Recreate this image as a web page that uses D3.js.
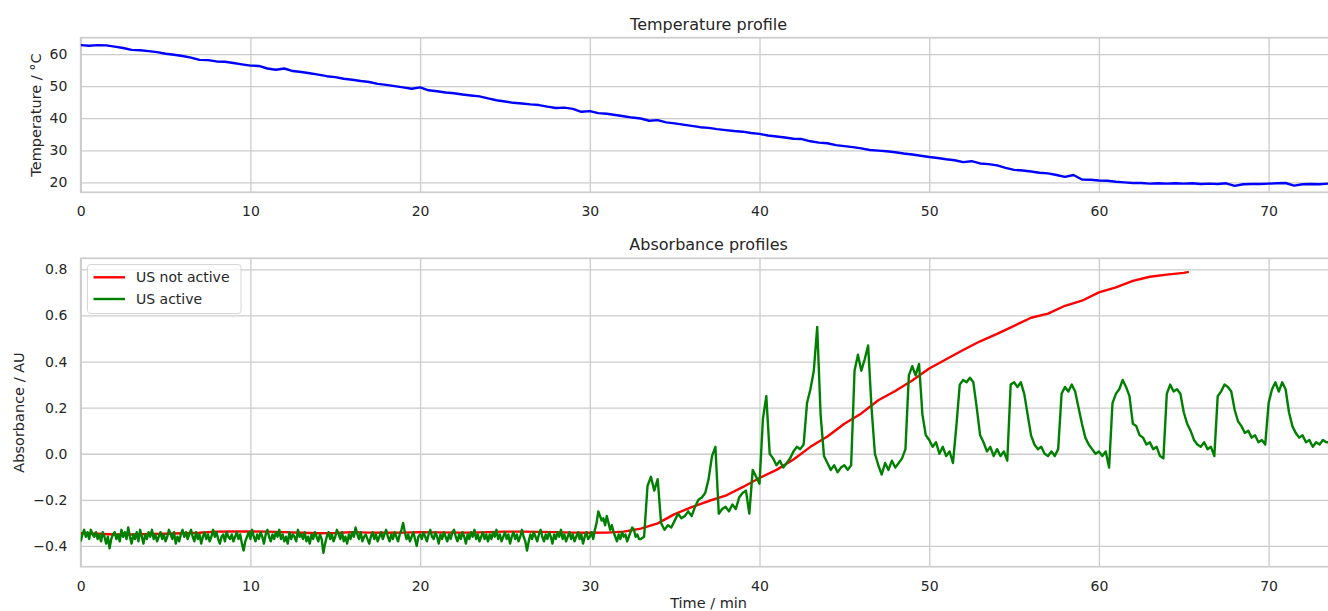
<!DOCTYPE html>
<html>
<head>
<meta charset="utf-8">
<title>Temperature and absorbance profiles</title>
<script src="https://d3js.org/d3.v7.min.js"></script>
<style>
    body { margin: 0; background: #fff; }
    svg { display: block; font-family: "DejaVu Sans", sans-serif; }
    .tick text { fill: #262626; }
</style>
</head>
<body>
<svg id="chart" width="1328" height="611"></svg>
<script>
// ---- data ----
const xTicks = [0, 10, 20, 30, 40, 50, 60, 70];
const tempTicks = [20, 30, 40, 50, 60];
const absTicks = [-0.4, -0.2, 0.0, 0.2, 0.4, 0.6, 0.8];

// temperature, one sample every 0.5 min from 0 to 74 min
const tempStep = 0.5;
const temperature = [
    62.8,62.6,62.8,62.7,62.3,61.9,61.3,61.2,60.9,60.6,
    60.1,59.8,59.4,58.9,58.2,58.1,57.7,57.6,57.2,56.8,
    56.4,56.3,55.5,55.1,55.5,54.7,54.4,54.0,53.6,53.1,
    52.8,52.3,52.0,51.6,51.3,50.7,50.4,50.0,49.6,49.2,
    49.6,48.7,48.4,48.0,47.8,47.4,47.1,46.8,46.2,45.6,
    45.2,44.8,44.6,44.3,44.1,43.6,43.2,43.3,42.9,42.0,
    42.2,41.6,41.4,41.0,40.6,40.2,39.9,39.2,39.4,38.7,
    38.4,38.0,37.6,37.2,37.0,36.6,36.3,36.0,35.8,35.4,
    35.1,34.6,34.3,34.0,33.6,33.5,32.8,32.4,32.2,31.6,
    31.3,31.0,30.6,30.1,29.9,29.7,29.4,29.0,28.7,28.3,
    27.9,27.6,27.2,26.9,26.3,26.6,25.9,25.7,25.3,24.5,
    23.9,23.7,23.4,23.0,22.8,22.3,21.7,22.3,20.9,20.8,
    20.6,20.5,20.2,20.0,19.8,19.8,19.6,19.7,19.6,19.7,
    19.6,19.7,19.5,19.6,19.5,19.7,18.9,19.4,19.5,19.5,
    19.6,19.7,19.8,19.0,19.4,19.5,19.4,19.6,19.5
];

// US not active (red)
const redTime = [...d3.range(0, 66), 65.3];
const usNotActive = [
    -0.345,-0.347,-0.350,-0.350,-0.348,-0.347,-0.345,-0.343,-0.338,-0.337,
    -0.337,-0.338,-0.340,-0.343,-0.345,-0.344,-0.340,-0.342,-0.343,-0.342,
    -0.340,-0.341,-0.342,-0.342,-0.340,-0.338,-0.338,-0.339,-0.340,-0.342,
    -0.343,-0.342,-0.338,-0.325,-0.302,-0.262,-0.232,-0.205,-0.182,-0.145,
    -0.105,-0.070,-0.025,0.030,0.075,0.130,0.175,0.232,0.272,0.318,
    0.370,0.410,0.450,0.488,0.520,0.555,0.590,0.608,0.642,0.664,
    0.700,0.722,0.750,0.768,0.777,0.785,0.789
];

// US active (green): 0 - 32.9 min every 0.1 min (noisy baseline)
const greenEarlyStep = 0.1;
const usActiveEarly = [
    -0.38,-0.35,-0.33,-0.36,-0.34,-0.37,-0.33,-0.35,-0.36,-0.34,
    -0.37,-0.35,-0.38,-0.34,-0.36,-0.39,-0.36,-0.41,-0.37,-0.35,
    -0.34,-0.37,-0.35,-0.38,-0.33,-0.36,-0.34,-0.37,-0.32,-0.36,
    -0.39,-0.35,-0.37,-0.34,-0.38,-0.33,-0.36,-0.39,-0.35,-0.37,
    -0.34,-0.36,-0.33,-0.37,-0.35,-0.38,-0.36,-0.34,-0.37,-0.35,
    -0.38,-0.36,-0.33,-0.35,-0.37,-0.34,-0.39,-0.36,-0.38,-0.35,
    -0.33,-0.36,-0.34,-0.37,-0.35,-0.33,-0.36,-0.38,-0.34,-0.37,
    -0.35,-0.39,-0.36,-0.34,-0.37,-0.35,-0.38,-0.36,-0.33,-0.36,
    -0.34,-0.37,-0.39,-0.36,-0.35,-0.38,-0.34,-0.36,-0.37,-0.35,
    -0.38,-0.36,-0.34,-0.37,-0.35,-0.39,-0.42,-0.38,-0.36,-0.34,
    -0.37,-0.33,-0.36,-0.38,-0.35,-0.37,-0.34,-0.36,-0.39,-0.35,
    -0.33,-0.36,-0.38,-0.35,-0.37,-0.34,-0.36,-0.33,-0.37,-0.35,
    -0.38,-0.36,-0.39,-0.34,-0.37,-0.35,-0.36,-0.38,-0.33,-0.36,
    -0.35,-0.37,-0.34,-0.38,-0.36,-0.39,-0.35,-0.37,-0.34,-0.36,
    -0.38,-0.35,-0.37,-0.43,-0.39,-0.36,-0.34,-0.37,-0.35,-0.38,
    -0.36,-0.33,-0.35,-0.37,-0.34,-0.38,-0.36,-0.39,-0.35,-0.37,
    -0.34,-0.36,-0.32,-0.35,-0.37,-0.34,-0.38,-0.36,-0.35,-0.37,
    -0.39,-0.36,-0.34,-0.37,-0.35,-0.38,-0.36,-0.34,-0.37,-0.35,
    -0.33,-0.36,-0.38,-0.35,-0.37,-0.34,-0.36,-0.38,-0.35,-0.33,
    -0.30,-0.34,-0.37,-0.35,-0.38,-0.36,-0.34,-0.37,-0.40,-0.36,
    -0.35,-0.37,-0.34,-0.36,-0.38,-0.35,-0.33,-0.36,-0.37,-0.34,
    -0.36,-0.39,-0.35,-0.37,-0.34,-0.36,-0.38,-0.35,-0.37,-0.34,
    -0.33,-0.36,-0.38,-0.35,-0.37,-0.34,-0.36,-0.39,-0.35,-0.37,
    -0.34,-0.36,-0.33,-0.37,-0.35,-0.38,-0.36,-0.34,-0.37,-0.35,
    -0.38,-0.35,-0.37,-0.34,-0.36,-0.33,-0.37,-0.35,-0.38,-0.36,
    -0.34,-0.37,-0.35,-0.39,-0.36,-0.34,-0.37,-0.35,-0.38,-0.36,
    -0.33,-0.36,-0.38,-0.42,-0.38,-0.35,-0.37,-0.34,-0.36,-0.38,
    -0.35,-0.33,-0.36,-0.38,-0.35,-0.37,-0.34,-0.36,-0.39,-0.35,
    -0.37,-0.34,-0.36,-0.33,-0.37,-0.35,-0.38,-0.36,-0.34,-0.37,
    -0.35,-0.38,-0.36,-0.34,-0.37,-0.35,-0.39,-0.36,-0.34,-0.37,
    -0.36,-0.34,-0.37,-0.33,-0.30,-0.25,-0.27,-0.29,-0.28,-0.31,
    -0.27,-0.30,-0.33,-0.31,-0.34,-0.36,-0.38,-0.35,-0.37,-0.34,
    -0.36,-0.35,-0.38,-0.36,-0.34,-0.32,-0.33,-0.36,-0.35,-0.37
];
// US active (green): from 33.0 min every 0.2 min
const greenLateStart = 33.0;
const greenLateStep = 0.2;
const usActiveLate = [
    -0.37,-0.36,-0.14,-0.10,-0.16,
    -0.11,-0.30,-0.33,-0.31,-0.32,-0.29,-0.26,-0.28,-0.27,-0.25,
    -0.27,-0.23,-0.20,-0.19,-0.17,-0.11,-0.01,0.03,-0.26,-0.24,
    -0.23,-0.25,-0.22,-0.24,-0.19,-0.17,-0.16,-0.26,-0.07,-0.10,
    -0.13,0.15,0.25,0.00,-0.02,-0.05,-0.03,-0.06,-0.04,-0.02,
    0.01,0.03,0.02,0.04,0.22,0.28,0.36,0.55,0.17,-0.01,
    -0.04,-0.07,-0.05,-0.08,-0.06,-0.05,-0.07,-0.05,0.36,0.43,
    0.36,0.41,0.47,0.20,0.00,-0.05,-0.09,-0.04,-0.07,-0.03,
    -0.06,-0.04,-0.02,0.02,0.34,0.38,0.34,0.39,0.17,0.08,
    0.06,0.03,0.05,0.00,0.03,-0.01,0.01,-0.04,0.12,0.30,
    0.32,0.31,0.33,0.31,0.20,0.08,0.05,0.01,0.03,-0.01,
    0.02,-0.01,0.01,-0.03,0.30,0.31,0.29,0.31,0.26,0.17,
    0.08,0.04,0.02,0.03,0.00,-0.01,0.01,-0.01,0.02,0.26,
    0.29,0.27,0.30,0.27,0.20,0.13,0.07,0.04,0.02,0.00,
    0.01,-0.01,0.01,-0.06,0.22,0.26,0.28,0.32,0.29,0.25,
    0.13,0.12,0.08,0.07,0.04,0.05,0.02,0.03,-0.01,-0.02,
    0.26,0.30,0.27,0.28,0.26,0.18,0.13,0.10,0.06,0.04,
    0.03,0.05,0.02,0.03,-0.01,0.25,0.27,0.30,0.29,0.27,
    0.19,0.14,0.12,0.09,0.10,0.07,0.08,0.05,0.06,0.04,
    0.22,0.28,0.31,0.27,0.31,0.28,0.18,0.12,0.09,0.07,
    0.08,0.05,0.06,0.03,0.05,0.04,0.06,0.05,0.05,0.06
];

// ---- layout ----
const svg = d3.select("#chart");
const gridColor = "#cccccc";
const left = 80.7, right = 1336.5;
const lineW = 2.4;

const x = d3.scaleLinear().domain([0, 74]).range([left, right]);

const panels = [
    { top: 37.7, bottom: 192.3, domain: [16.9, 65.1], ticks: tempTicks,
      title: "Temperature profile", ylabel: "Temperature / °C", ylabelX: 36, fmt: d3.format("d") },
    { top: 258.3, bottom: 566.7, domain: [-0.49, 0.848], ticks: absTicks,
      title: "Absorbance profiles", ylabel: "Absorbance / AU", ylabelX: 18.7, fmt: d3.format(".1f") }
];

panels.forEach((p, i) => {
    p.y = d3.scaleLinear().domain(p.domain).range([p.bottom, p.top]);
    const h = p.bottom - p.top;
    const g = svg.append("g");

    // clip
    svg.append("clipPath").attr("id", "clip" + i)
        .append("rect").attr("x", left).attr("y", p.top)
        .attr("width", right - left).attr("height", h);

    // grid
    g.append("g")
        .attr("transform", `translate(0,${p.bottom})`)
        .call(d3.axisBottom(x).tickValues(xTicks).tickSize(-h).tickFormat(""))
        .call(a => a.select(".domain").remove())
        .call(a => a.selectAll("line").attr("stroke", gridColor).attr("stroke-width", 1.3));
    g.append("g")
        .attr("transform", `translate(${left},0)`)
        .call(d3.axisLeft(p.y).tickValues(p.ticks).tickSize(-(right - left)).tickFormat(""))
        .call(a => a.select(".domain").remove())
        .call(a => a.selectAll("line").attr("stroke", gridColor).attr("stroke-width", 1.3));

    // spines
    g.append("rect")
        .attr("x", left).attr("y", p.top)
        .attr("width", right - left).attr("height", h)
        .attr("fill", "none").attr("stroke", gridColor).attr("stroke-width", 1.7);

    // tick labels
    g.append("g")
        .attr("transform", `translate(0,${p.bottom})`)
        .call(d3.axisBottom(x).tickValues(xTicks).tickSize(0).tickPadding(14).tickFormat(d3.format("d")))
        .call(a => a.select(".domain").remove())
        .call(a => a.selectAll("text").attr("font-size", 14).attr("font-family", "DejaVu Sans"));
    g.append("g")
        .attr("transform", `translate(${left},0)`)
        .call(d3.axisLeft(p.y).tickValues(p.ticks).tickSize(0).tickPadding(13.4).tickFormat(p.fmt))
        .call(a => a.select(".domain").remove())
        .call(a => a.selectAll("text").attr("font-size", 14).attr("font-family", "DejaVu Sans"));

    // title
    svg.append("text")
        .attr("x", (left + right) / 2).attr("y", p.top - 8)
        .attr("text-anchor", "middle").attr("font-size", 16).attr("fill", "#262626")
        .text(p.title);

    // y label
    svg.append("text")
        .attr("transform", `translate(${p.ylabelX},${(p.top + p.bottom) / 2}) rotate(-90)`)
        .attr("text-anchor", "middle").attr("dominant-baseline", "central")
        .attr("font-size", 14.5).attr("fill", "#262626")
        .text(p.ylabel);
});

// x label
svg.append("text")
    .attr("x", (left + right) / 2).attr("y", 607.5)
    .attr("text-anchor", "middle").attr("font-size", 14.5).attr("fill", "#262626")
    .text("Time / min");

// ---- lines ----
const tempPanel = panels[0], absPanel = panels[1];

const tempLine = d3.line().x((d, i) => x(i * tempStep)).y(d => tempPanel.y(d));
svg.append("path")
    .datum(temperature)
    .attr("clip-path", "url(#clip0)")
    .attr("fill", "none").attr("stroke", "#0000ff").attr("stroke-width", lineW)
    .attr("stroke-linejoin", "round")
    .attr("d", tempLine);

const redLine = d3.line().x((d, i) => x(redTime[i])).y(d => absPanel.y(d));
svg.append("path")
    .datum(usNotActive)
    .attr("clip-path", "url(#clip1)")
    .attr("fill", "none").attr("stroke", "#ff0000").attr("stroke-width", lineW)
    .attr("stroke-linejoin", "round")
    .attr("d", redLine);

// join the two green sampling blocks into [time, value] pairs
const greenPoints = usActiveEarly.map((v, i) => [i * greenEarlyStep, v])
    .concat(usActiveLate.map((v, i) => [greenLateStart + i * greenLateStep, v]));
const greenLine = d3.line().x(d => x(d[0])).y(d => absPanel.y(d[1]));
svg.append("path")
    .datum(greenPoints)
    .attr("clip-path", "url(#clip1)")
    .attr("fill", "none").attr("stroke", "#008000").attr("stroke-width", lineW)
    .attr("stroke-linejoin", "round")
    .attr("d", greenLine);

// ---- legend ----
const legend = svg.append("g");
legend.append("rect")
    .attr("x", 87.5).attr("y", 264.5).attr("width", 153.5).attr("height", 49)
    .attr("rx", 3).attr("fill", "#ffffff").attr("fill-opacity", 0.8)
    .attr("stroke", "#d6d6d6").attr("stroke-width", 1);
const items = [
    { label: "US not active", color: "#ff0000", y: 277.3 },
    { label: "US active", color: "#008000", y: 299 }
];
items.forEach(it => {
    legend.append("line")
        .attr("x1", 93.5).attr("x2", 125).attr("y1", it.y).attr("y2", it.y)
        .attr("stroke", it.color).attr("stroke-width", lineW);
    legend.append("text")
        .attr("x", 136).attr("y", it.y).attr("dominant-baseline", "central")
        .attr("font-size", 14).attr("fill", "#262626")
        .text(it.label);
});
</script>
</body>
</html>
